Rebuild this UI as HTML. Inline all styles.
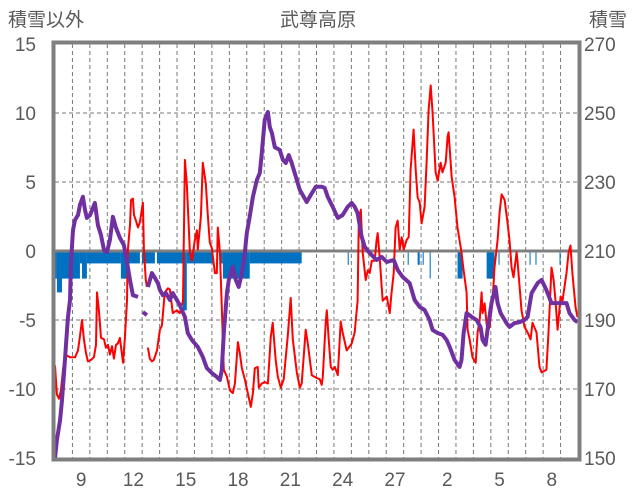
<!DOCTYPE html>
<html><head><meta charset="utf-8">
<style>
html,body{margin:0;padding:0;background:#fff;}
svg{display:block;font-family:"Liberation Sans","Noto Sans CJK JP",sans-serif;}
</style></head>
<body>
<svg id="chart" width="636" height="501" viewBox="0 0 636 501" xmlns="http://www.w3.org/2000/svg">
<text x="8" y="26" font-size="19" fill="#595959">積雪以外</text>
<text x="318" y="26" font-size="19" fill="#595959" text-anchor="middle">武尊高原</text>
<text x="589" y="26" font-size="19" fill="#595959">積雪</text>
<g id="grid"></g><g id="bars"></g><g id="lines"></g><g id="frame"></g><g id="labels"></g>
</svg>
<script>
const leftTicks=[15,10,5,0,-5,-10,-15];
const rightTicks=[270,250,230,210,190,170,150];
const dayLabels=["9","12","15","18","21","24","27","2","5","8"];
const dayLabelPos=[1,4,7,10,13,16,19,22,25,28];
const redT=[0,0.11,0.23,0.34,0.46,0.57,0.86,1.15,1.32,1.43,1.55,1.66,1.78,1.89,2.06,2.23,2.35,2.41,2.52,2.64,2.81,2.92,3.04,3.15,3.27,3.38,3.5,3.61,3.72,3.9,4.01,4.13,4.18,4.3,4.36,4.47,4.53,4.64,4.76,4.87,5.04,5.1,5.21,5.27,5.3,5.33,5.44,5.56,5.67,5.85,6.02,6.13,6.3,6.48,6.59,6.76,6.99,7.16,7.34,7.45,7.56,7.74,7.85,8.02,8.14,8.19,8.37,8.48,8.65,8.77,8.88,9,9.17,9.28,9.34,9.46,9.57,9.68,9.86,10.03,10.2,10.32,10.49,10.6,10.72,10.89,11.06,11.23,11.35,11.46,11.63,11.69,11.86,12.03,12.21,12.38,12.49,12.66,12.78,12.95,13.12,13.35,13.52,13.64,13.87,14.04,14.15,14.38,14.5,14.73,15.01,15.19,15.3,15.36,15.53,15.59,15.7,15.82,15.93,16.05,16.22,16.39,16.5,16.73,17.02,17.19,17.36,17.42,17.54,17.65,17.82,17.94,18.05,18.17,18.34,18.45,18.51,18.62,18.74,18.8,19.03,19.2,19.31,19.43,19.54,19.66,19.77,19.89,20,20.17,20.29,20.4,20.57,20.69,20.8,20.92,21.03,21.2,21.32,21.43,21.55,21.66,21.83,21.95,22.12,22.23,22.41,22.52,22.58,22.75,22.92,23.09,23.32,23.44,23.61,23.67,23.78,23.95,24.13,24.24,24.36,24.47,24.53,24.64,24.81,24.93,25.1,25.21,25.39,25.5,25.62,25.79,25.96,26.07,26.19,26.3,26.48,26.53,26.76,26.93,27.11,27.28,27.39,27.62,27.79,27.91,28.19,28.31,28.48,28.6,28.71,28.83,29,29.11,29.34,29.46,29.57,29.68,29.86,29.97];
const redV=[-8.3,-10.4,-10.7,-10.1,-8.6,-7.5,-7.7,-7.7,-7.2,-6.2,-5,-6.4,-7.4,-8,-7.9,-7.7,-6.8,-3,-4.3,-6.3,-6.4,-7,-6.8,-7.5,-6.9,-7.8,-6.8,-6.7,-6.3,-8.1,-6.3,-3.6,0.1,1.9,3.7,3.8,2.6,2.2,1.7,2.1,3.5,0.1,-2.1,-2.6,null,-7,-7.8,-8,-7.9,-7.2,-5.7,-5.4,-3,-2.7,-2.8,-4.5,-4.3,-4.5,-3.6,6.6,4.9,-0.1,-0.7,0.8,1.5,0.1,2.5,6.4,4.9,2.5,0.6,0.2,-1.6,-1.6,1.7,-0.1,-4.1,-8.6,-9.1,-10.1,-10.3,-9.6,-6.6,-7.4,-8.5,-9.3,-10.3,-11.3,-10.3,-8.5,-8.4,-9.9,-9.6,-9.5,-9.6,-6.2,-5.2,-7.9,-9.1,-9.9,-9.3,-6.2,-3.4,-6.4,-8.8,-9.9,-9.6,-5.7,-6.7,-9,-9.2,-9.3,-9.7,-9.1,-5.2,-4.3,-6.4,-8.4,-8.6,-8.4,-9,-5.1,-5.9,-7.2,-6.7,-5.9,-3.6,1.7,3,-0.1,-2.1,-1.4,-1.6,-0.7,-0.7,0.8,1.3,-0.4,-2.6,-3.6,-3.3,-4.5,-3,-1.6,1.7,2.2,0.1,1,0.1,0.8,1,5.9,8.8,5.9,3.9,3.5,2,3.2,6.6,10.2,12,10,5.7,5.1,6.4,5.7,6.4,8.3,8.6,5.4,3.9,1.7,-0.1,-1.4,-3,-5.7,-6.4,-7.7,-8.1,-5.9,-5,-3,-4.5,-3.8,-5.9,-5.5,-3.6,-1.2,0.8,2.8,4.1,3.7,2,0.8,-1.2,-1.9,-0.1,-0.7,-4.3,-5.5,-5.9,-6.4,-5.2,-5.9,-8.4,-8.8,-8.6,-5.9,-1.2,-2.1,-3.6,-5.7,-3.3,-3.6,-1.6,-0.1,0.4,-1.6,-4.1,-4.8];
const snowT=[0,0.11,0.29,0.4,0.52,0.63,0.74,0.86,0.92,1.03,1.15,1.32,1.43,1.6,1.72,1.83,2.01,2.29,2.46,2.64,2.81,2.98,3.15,3.32,3.5,3.72,3.95,4.13,4.3,4.47,4.76,4.9,5.04,5.27,5.3,5.33,5.56,5.73,5.9,6.02,6.19,6.36,6.59,6.76,6.99,7.16,7.45,7.62,7.85,8.19,8.48,8.71,9,9.28,9.46,9.57,9.68,9.86,9.97,10.2,10.37,10.54,10.72,10.89,11,11.17,11.35,11.58,11.75,11.86,12.03,12.21,12.32,12.44,12.61,12.89,13.07,13.24,13.41,13.58,13.75,14.04,14.44,14.67,14.96,15.3,15.47,15.64,15.93,16.22,16.5,16.79,17.02,17.19,17.36,17.59,17.77,18.05,18.45,18.74,19.03,19.43,19.66,19.94,20.34,20.63,20.92,21.2,21.49,21.66,21.95,22.23,22.46,22.64,22.92,23.21,23.32,23.44,23.61,23.9,24.18,24.41,24.53,24.7,24.81,25.04,25.27,25.39,25.56,25.9,26.07,26.36,26.65,26.93,27.11,27.34,27.68,27.91,28.19,28.48,28.94,29.34,29.51,29.8,29.97];
const snowV=[150,155.2,161,166.8,174.9,182.8,190.6,195.8,206.8,216.1,219,220.4,223.3,225.7,221.9,219.6,220.4,223.9,217.5,214.6,210.3,209.7,213.2,219.9,216.7,213.8,211.7,206.8,201.6,197.2,196.7,null,192.3,191.4,null,199.6,203.6,202.2,200.7,198.7,197.2,197.8,195.8,197.8,195.8,194.3,190.9,186.2,184.2,182.2,179.3,176.1,174.6,173.5,172.6,175.5,186.2,197.8,201.6,205.4,201.6,199.6,203.6,209.4,215.2,219.9,225.7,230.6,232.6,238.4,248,250.3,245.9,244.2,240.1,239.3,236.4,235.5,237.8,235.5,232.6,227.7,224.2,226.2,228.6,228.6,228.3,225.7,222.8,219.6,220.4,222.8,223.9,222.8,221,214.1,211.2,209.4,207.4,208.3,206.8,207.4,204.5,202.5,200.7,195.8,193.8,192.9,190,187.1,186.2,185.7,184.2,182.2,178.4,176.4,178.4,186.2,192,190.9,190,188,184.2,182.8,187.1,194.9,199.6,194.9,192,189.1,188,189.1,189.4,190,190.9,197.8,200.7,201.6,198.7,194.9,194.9,194.9,192,190,189.4];
const fallStart=[0,0.11,0.4,1.43,1.55,1.83,3.78,4.18,4.99,5.85,7.34,7.56,9.46,9.63,11.17,16.79,20.23,20.8,21.09,21.49,23.09,24.76,25.44,27.22,27.56,28.94];
const fallEnd=[0.11,0.4,1.43,1.55,1.83,3.78,4.18,4.87,5.73,7.34,7.56,9.05,9.63,11.17,14.15,16.85,20.29,20.92,21.15,21.55,23.38,25.21,25.5,27.28,27.62,29.0];
const fallV=[-2,-3,-2,-0.9,-2,-0.9,-2,-0.9,-0.9,-0.9,-4.3,-0.9,-0.9,-2,-0.9,-1,-1,-1,-1,-2,-2,-2,-1,-1,-1,-1];

const X0=55,X1=578,Y0=44,Y1=458,DAYS=30;
const NS="http://www.w3.org/2000/svg";
const xs=t=>X0+(X1-X0)*t/DAYS;
const yl=v=>Y1-(v+15)/30*(Y1-Y0);
const yr=v=>Y1-(v-150)/120*(Y1-Y0);
function mk(tag,attrs,parent){const e=document.createElementNS(NS,tag);for(const k in attrs)e.setAttribute(k,attrs[k]);parent.appendChild(e);return e;}
const grid=document.getElementById('grid'),bars=document.getElementById('bars'),lines=document.getElementById('lines'),frame=document.getElementById('frame'),labels=document.getElementById('labels');
for(let d=1;d<DAYS;d++){
  const l=mk('line',{x1:xs(d),x2:xs(d),y1:Y0,y2:Y1,stroke:'#777','stroke-width':1,'stroke-dasharray':'4,3'},grid);
  
  
}
leftTicks.forEach(v=>{
  if(v!==0&&Math.abs(v)!==15){
    const l=mk('line',{x1:X0,x2:X1,y1:yl(v),y2:yl(v),stroke:'#777','stroke-width':1,'stroke-dasharray':'4,3'},grid);
    
    
  }
  const t=mk('text',{x:36,y:yl(v)+7,'font-size':19,fill:'#595959','text-anchor':'end'},labels);
  t.textContent=v;
  
  
});
rightTicks.forEach(v=>{
  const t=mk('text',{x:584,y:yr(v)+7,'font-size':19,fill:'#595959'},labels);
  t.textContent=v;
  
  
});
dayLabels.forEach((s,i)=>{
  const t=mk('text',{x:xs(dayLabelPos[i]+0.5),y:486,'font-size':19,fill:'#595959','text-anchor':'middle'},labels);
  t.textContent=s;
  
  
});
fallV.forEach((v,i)=>{
  const x=xs(fallStart[i]),w=Math.max(1,xs(fallEnd[i])-x);
  const r=mk('rect',{x:x,y:yl(0),width:w,height:yl(v)-yl(0),fill:'#0070C0'},bars);
  
  
});
function path(ts,vs,yf){let d='',pen=false;ts.forEach((t,i)=>{const v=vs[i];if(v===null){pen=false;return;}d+=(pen?'L':'M')+xs(t).toFixed(1)+','+yf(v).toFixed(1);pen=true;});return d;}
const zl=mk('line',{x1:X0,x2:X1,y1:yl(0),y2:yl(0),stroke:'#7f7f7f','stroke-width':3},lines);


const rp=mk('path',{d:path(redT,redV,yl),fill:'none',stroke:'#FF0000','stroke-width':2,'stroke-linejoin':'round'},lines);


const pp=mk('path',{d:path(snowT,snowV,yr),fill:'none',stroke:'#7030A0','stroke-width':4,'stroke-linejoin':'round'},lines);


const fr=mk('rect',{x:X0-1.5,y:Y0-1.5,width:X1-X0+3,height:Y1-Y0+3,fill:'none',stroke:'#7f7f7f','stroke-width':4},frame);


</script>
</body></html>
